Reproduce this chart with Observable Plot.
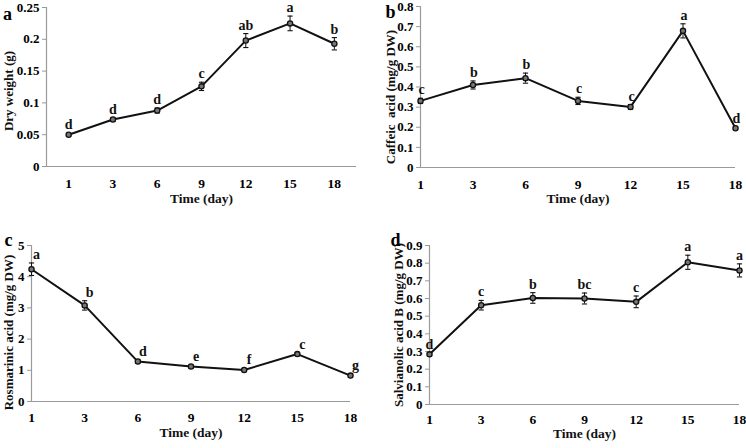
<!DOCTYPE html>
<html>
<head>
<meta charset="utf-8">
<script src="https://cdn.jsdelivr.net/npm/d3@7"></script>
<script src="https://cdn.jsdelivr.net/npm/@observablehq/plot@0.6"></script>
<style>
  body { margin: 0; background: #fff; }
  #wrap { position: relative; width: 746px; height: 448px; background: #fff; overflow: hidden; }
  #wrap svg { position: absolute; }
  #wrap svg text { font-weight: bold; }
</style>
</head>
<body>
<div id="wrap"></div>
<script>
// ---- Data ----
const days = ["1", "3", "6", "9", "12", "15", "18"];

const dryWeight = [0.050, 0.074, 0.088, 0.126, 0.198, 0.225, 0.193];
const dryWeightErr = [0.002, 0.003, 0.004, 0.0065, 0.011, 0.0115, 0.0097];
const dryWeightLetters = ["d", "d", "d", "c", "ab", "a", "b"];
const dryWeightTicks = [0, 0.05, 0.1, 0.15, 0.2, 0.25];

const caffeic = [0.331, 0.41, 0.444, 0.331, 0.301, 0.679, 0.195];
const caffeicErr = [0.013, 0.02, 0.025, 0.018, 0.012, 0.035, 0.005];
const caffeicLetters = ["c", "b", "b", "c", "c", "a", "d"];
const caffeicTicks = [0, 0.1, 0.2, 0.3, 0.4, 0.5, 0.6, 0.7, 0.8];

const rosmarinic = [4.24, 3.08, 1.28, 1.12, 1.01, 1.52, 0.83];
const rosmarinicErr = [0.2, 0.15, 0.05, 0.05, 0.05, 0.05, 0.05];
const rosmarinicLetters = ["a", "b", "d", "e", "f", "c", "g"];
const rosmarinicTicks = [0, 1, 2, 3, 4, 5];

const salvianolic = [0.284, 0.562, 0.603, 0.6, 0.581, 0.805, 0.759];
const salvianolicErr = [0.01, 0.027, 0.03, 0.031, 0.033, 0.04, 0.037];
const salvianolicLetters = ["d", "c", "b", "bc", "c", "a", "a"];
const salvianolicTicks = [0, 0.1, 0.2, 0.3, 0.4, 0.5, 0.6, 0.7, 0.8, 0.9];

// ---- Panels ----
const panels = [
  {letter: "a", ylabel: "Dry weight (g)", values: dryWeight, errs: dryWeightErr, letters: dryWeightLetters,
   ticks: dryWeightTicks, yMax: 0.25, left: 0, top: 0,
   m: {l: 46, r: 17, t: 7, b: 58}, xDomain: [-0.5, 6.5], tickPad: 12, labDx: 0,
   title: {dy: 36}, yl: {dx: -38, dy: 4}, pl: {dx: -39, dy: 0}},
  {letter: "b", ylabel: "Caffeic  acid (mg/g DW)", values: caffeic, errs: caffeicErr, letters: caffeicLetters,
   ticks: caffeicTicks, yMax: 0.8, left: 373, top: 0,
   m: {l: 47, r: 11, t: 6, b: 57}, xDomain: [0, 6], tickPad: 11.5, labDx: 1,
   title: {dy: 35}, yl: {dx: -30, dy: 10}, pl: {dx: -30, dy: -1}},
  {letter: "c", ylabel: "Rosmarinic acid (mg/g DW)", values: rosmarinic, errs: rosmarinicErr, letters: rosmarinicLetters,
   ticks: rosmarinicTicks, yMax: 5, left: 0, top: 224,
   m: {l: 31, r: 23, t: 21, b: 47}, xDomain: [0, 6], tickPad: 10.5, labDx: 5,
   title: {dy: 35}, yl: {dx: -23, dy: 9}, pl: {dx: -23, dy: -12}},
  {letter: "d", ylabel: "Salvianolic acid B (mg/g DW)", values: salvianolic, errs: salvianolicErr, letters: salvianolicLetters,
   ticks: salvianolicTicks, yMax: 0.9, left: 373, top: 224,
   m: {l: 56, r: 7, t: 21, b: 44}, xDomain: [0, 6], tickPad: 9.5, labDx: 0,
   title: {dy: 33}, yl: {dx: -31, dy: 0}, pl: {dx: -34, dy: -12}}
];

const capSymbol = {
  draw(context) {
    context.moveTo(-2.6, 0);
    context.lineTo(2.6, 0);
  }
};

const fmt = d => String(+d.toFixed(2));
const wrap = document.getElementById("wrap");
const serif = "'Liberation Serif', 'Times New Roman', serif";

for (const p of panels) {
  const data = p.values.map((v, i) => ({i, v, lo: v - p.errs[i], hi: v + p.errs[i], lab: p.letters[i]}));
  const chart = Plot.plot({
    width: 373,
    height: 224,
    marginLeft: p.m.l,
    marginRight: p.m.r,
    marginTop: p.m.t,
    marginBottom: p.m.b,
    style: {fontFamily: serif, fontWeight: "bold", fontSize: "13px", background: "#fff", color: "#000", overflow: "visible"},
    x: {domain: p.xDomain},
    y: {domain: [0, p.yMax]},
    marks: [
      Plot.ruleY([0], {stroke: "#9a9a9a", strokeWidth: 1.2}),
      Plot.ruleX([p.xDomain[0]], {stroke: "#9a9a9a", strokeWidth: 1.2}),
      Plot.axisY({ticks: p.ticks, tickFormat: fmt, tickSize: 4, tickPadding: 3, stroke: "#9a9a9a", fill: "#000", label: null, fontSize: 13, fontWeight: "bold"}),
      Plot.axisX({ticks: d3.range(days.length), tickFormat: i => days[i], tickSize: 0, tickPadding: p.tickPad, label: null, fontSize: 13.5, fontWeight: "bold"}),
      Plot.ruleX(data, {x: "i", y1: "lo", y2: "hi", stroke: "#111", strokeWidth: 1}),
      Plot.dot(data, {x: "i", y: "hi", symbol: capSymbol, stroke: "#111", strokeWidth: 1.1}),
      Plot.dot(data, {x: "i", y: "lo", symbol: capSymbol, stroke: "#111", strokeWidth: 1.1}),
      Plot.line(data, {x: "i", y: "v", stroke: "#111", strokeWidth: 2}),
      Plot.dot(data, {x: "i", y: "v", r: 2.6, fill: "#777", stroke: "#111", strokeWidth: 1.3}),
      Plot.text(data, {x: "i", y: "hi", text: "lab", dx: p.labDx, dy: -4, lineAnchor: "bottom", fontSize: 14, fontWeight: "bold", fill: "#111"}),
      Plot.text(["Time (day)"], {frameAnchor: "bottom", dy: p.title.dy, fontSize: 13.5, fontWeight: "bold", fill: "#111"}),
      Plot.text([p.ylabel], {frameAnchor: "left", textAnchor: "middle", lineAnchor: "middle", rotate: -90, dx: p.yl.dx, dy: p.yl.dy, fontSize: 13, fontWeight: "bold", fill: "#111"}),
      Plot.text([p.letter], {frameAnchor: "top-left", textAnchor: "middle", lineAnchor: "top", dx: p.pl.dx, dy: p.pl.dy, fontSize: 18, fontWeight: "bold", fill: "#000"})
    ]
  });
  chart.style.left = p.left + "px";
  chart.style.top = p.top + "px";
  wrap.appendChild(chart);
}
</script>
</body>
</html>
